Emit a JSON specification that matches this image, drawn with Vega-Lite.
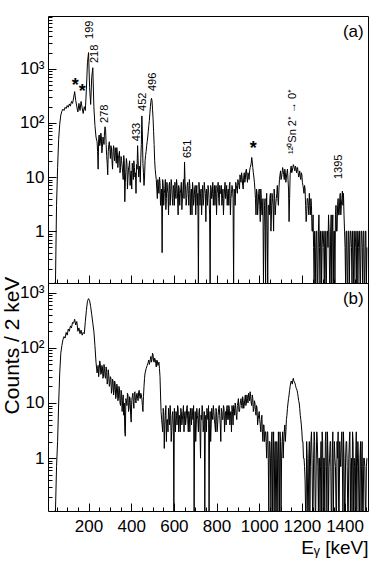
{
"$schema": "https://vega.github.io/schema/vega-lite/v6.json",
"padding": {"left": 0, "top": 15, "right": 0, "bottom": 0},
"spacing": 0,
"bounds": "flush",
"config": {
 "font": "Liberation Sans",
 "view": {"stroke": "#000", "strokeWidth": 1},
 "axis": {"domain": false, "grid": false, "tickColor": "#000", "tickWidth": 1, "labelColor": "#000", "labelFont": "Liberation Sans", "labelFontSize": 17, "titleFont": "Liberation Sans", "titleColor": "#000", "titleFontWeight": "normal", "labelOverlap": false, "labelFlush": false, "labelBound": false}
},
"datasets": {
"spec": [
{"e":40,"a":0,"b":0},{"e":45,"a":0,"b":0},{"e":50,"a":3,"b":0.7},{"e":55,"a":15,"b":2},{"e":60,"a":50,"b":10},{"e":65,"a":95,"b":35},{"e":70,"a":140,"b":80},{"e":75,"a":165,"b":110},{"e":80,"a":180,"b":140},{"e":85,"a":170,"b":160},{"e":90,"a":195,"b":150},{"e":95,"a":185,"b":190},{"e":100,"a":210,"b":170},{"e":105,"a":195,"b":220},{"e":110,"a":225,"b":200},{"e":115,"a":205,"b":250},{"e":120,"a":250,"b":230},{"e":125,"a":230,"b":290},{"e":130,"a":290,"b":280},{"e":135,"a":380,"b":330},{"e":140,"a":260,"b":260},{"e":145,"a":200,"b":300},{"e":150,"a":160,"b":200},{"e":155,"a":230,"b":230},{"e":160,"a":170,"b":180},{"e":165,"a":250,"b":210},{"e":170,"a":190,"b":170},{"e":175,"a":150,"b":190},{"e":180,"a":200,"b":180},{"e":185,"a":170,"b":300},{"e":190,"a":420,"b":480},{"e":195,"a":1300,"b":700},{"e":200,"a":2000,"b":780},{"e":205,"a":450,"b":720},{"e":210,"a":220,"b":560},{"e":215,"a":700,"b":400},{"e":220,"a":1050,"b":280},{"e":225,"a":200,"b":200},{"e":230,"a":90,"b":110},{"e":235,"a":55,"b":55},{"e":240,"a":45,"b":35},{"e":245,"a":14,"b":48},{"e":250,"a":60,"b":40},{"e":255,"a":42,"b":52},{"e":260,"a":55,"b":35},{"e":265,"a":35,"b":45},{"e":270,"a":48,"b":30},{"e":275,"a":70,"b":42},{"e":280,"a":75,"b":28},{"e":285,"a":25,"b":38},{"e":290,"a":11,"b":25},{"e":295,"a":40,"b":32},{"e":300,"a":32,"b":22},{"e":305,"a":38,"b":28},{"e":310,"a":20,"b":18},{"e":315,"a":30,"b":25},{"e":320,"a":25,"b":17},{"e":325,"a":35,"b":22},{"e":330,"a":18,"b":14},{"e":335,"a":28,"b":20},{"e":340,"a":22,"b":12},{"e":345,"a":30,"b":18},{"e":350,"a":15,"b":9},{"e":355,"a":20,"b":15},{"e":360,"a":12,"b":11},{"e":365,"a":25,"b":6},{"e":370,"a":3.5,"b":3},{"e":375,"a":14,"b":12},{"e":380,"a":18,"b":9},{"e":385,"a":10,"b":14},{"e":390,"a":16,"b":8},{"e":395,"a":7,"b":12},{"e":400,"a":13,"b":4.5},{"e":405,"a":18,"b":13},{"e":410,"a":9,"b":10},{"e":415,"a":15,"b":15},{"e":420,"a":12,"b":11},{"e":425,"a":17,"b":14},{"e":430,"a":38,"b":12},{"e":435,"a":10,"b":16},{"e":440,"a":16,"b":13},{"e":445,"a":22,"b":15},{"e":450,"a":135,"b":12},{"e":455,"a":18,"b":7},{"e":460,"a":7,"b":20},{"e":465,"a":20,"b":35},{"e":470,"a":30,"b":42},{"e":475,"a":45,"b":48},{"e":480,"a":70,"b":55},{"e":485,"a":110,"b":50},{"e":490,"a":200,"b":62},{"e":495,"a":285,"b":55},{"e":500,"a":180,"b":80},{"e":505,"a":70,"b":58},{"e":510,"a":20,"b":65},{"e":515,"a":11,"b":52},{"e":520,"a":6,"b":60},{"e":525,"a":9,"b":48},{"e":530,"a":5,"b":55},{"e":535,"a":8,"b":30},{"e":540,"a":4,"b":7},{"e":545,"a":0.4,"b":4},{"e":550,"a":7,"b":8},{"e":555,"a":5,"b":1.5},{"e":560,"a":9,"b":6},{"e":565,"a":4,"b":2},{"e":570,"a":6,"b":5},{"e":575,"a":2,"b":8},{"e":580,"a":8,"b":4},{"e":585,"a":5,"b":6},{"e":590,"a":7,"b":3},{"e":595,"a":3,"b":7},{"e":600,"a":6,"b":0},{"e":605,"a":8,"b":5},{"e":610,"a":4,"b":7},{"e":615,"a":7,"b":4},{"e":620,"a":2,"b":8},{"e":625,"a":6,"b":6},{"e":630,"a":5,"b":3},{"e":635,"a":8,"b":7},{"e":640,"a":4,"b":5},{"e":645,"a":9,"b":9},{"e":650,"a":19,"b":6},{"e":655,"a":6,"b":4},{"e":660,"a":4,"b":8},{"e":665,"a":8,"b":5},{"e":670,"a":3,"b":7},{"e":675,"a":7,"b":3},{"e":680,"a":5,"b":6},{"e":685,"a":2,"b":8},{"e":690,"a":6,"b":5},{"e":695,"a":4,"b":0},{"e":700,"a":7,"b":7},{"e":705,"a":5,"b":4},{"e":710,"a":3,"b":6},{"e":715,"a":0,"b":3},{"e":720,"a":6,"b":8},{"e":725,"a":5,"b":1},{"e":730,"a":2,"b":5},{"e":735,"a":7,"b":7},{"e":740,"a":4,"b":4},{"e":745,"a":6,"b":0},{"e":750,"a":1.5,"b":6},{"e":755,"a":5,"b":8},{"e":760,"a":7,"b":5},{"e":765,"a":4,"b":0},{"e":770,"a":0,"b":7},{"e":775,"a":6,"b":4},{"e":780,"a":5,"b":6},{"e":785,"a":3,"b":9},{"e":790,"a":7,"b":5},{"e":795,"a":5,"b":3},{"e":800,"a":2,"b":7},{"e":805,"a":6,"b":4},{"e":810,"a":4,"b":8},{"e":815,"a":7,"b":6},{"e":820,"a":5,"b":2},{"e":825,"a":3,"b":7},{"e":830,"a":6,"b":5},{"e":835,"a":4,"b":8},{"e":840,"a":8,"b":6},{"e":845,"a":5,"b":4},{"e":850,"a":3,"b":9},{"e":855,"a":6,"b":5},{"e":860,"a":7,"b":8},{"e":865,"a":2,"b":6},{"e":870,"a":5,"b":3},{"e":875,"a":6,"b":7},{"e":880,"a":0,"b":9},{"e":885,"a":5,"b":6},{"e":890,"a":8,"b":8},{"e":895,"a":6,"b":5},{"e":900,"a":9,"b":10},{"e":905,"a":7,"b":7},{"e":910,"a":11,"b":9},{"e":915,"a":8,"b":12},{"e":920,"a":10,"b":8},{"e":925,"a":6,"b":11},{"e":930,"a":12,"b":9},{"e":935,"a":9,"b":14},{"e":940,"a":14,"b":10},{"e":945,"a":8,"b":12},{"e":950,"a":11,"b":15},{"e":955,"a":13,"b":11},{"e":960,"a":16,"b":13},{"e":965,"a":23,"b":9},{"e":970,"a":15,"b":12},{"e":975,"a":10,"b":8},{"e":980,"a":6,"b":10},{"e":985,"a":2,"b":6},{"e":990,"a":5,"b":8},{"e":995,"a":3,"b":5},{"e":1000,"a":6,"b":7},{"e":1005,"a":1.5,"b":4},{"e":1010,"a":4,"b":5},{"e":1015,"a":2,"b":3},{"e":1020,"a":0,"b":4},{"e":1025,"a":3,"b":2},{"e":1030,"a":0,"b":3},{"e":1035,"a":5,"b":1},{"e":1040,"a":0,"b":3},{"e":1045,"a":3,"b":0},{"e":1050,"a":4,"b":2},{"e":1055,"a":1,"b":0},{"e":1060,"a":5,"b":3},{"e":1065,"a":3,"b":1},{"e":1070,"a":6,"b":0},{"e":1075,"a":2,"b":2},{"e":1080,"a":4,"b":0},{"e":1085,"a":7,"b":1},{"e":1090,"a":3,"b":3},{"e":1095,"a":9,"b":0},{"e":1100,"a":13,"b":2},{"e":1105,"a":10,"b":1},{"e":1110,"a":15,"b":3},{"e":1115,"a":11,"b":2},{"e":1120,"a":14,"b":4},{"e":1125,"a":8,"b":3},{"e":1130,"a":12,"b":6},{"e":1135,"a":9,"b":10},{"e":1140,"a":1.5,"b":14},{"e":1145,"a":11,"b":20},{"e":1150,"a":16,"b":25},{"e":1155,"a":13,"b":22},{"e":1160,"a":17,"b":28},{"e":1165,"a":14,"b":24},{"e":1170,"a":16,"b":21},{"e":1175,"a":12,"b":18},{"e":1180,"a":15,"b":15},{"e":1185,"a":10,"b":11},{"e":1190,"a":13,"b":8},{"e":1195,"a":9,"b":5},{"e":1200,"a":11,"b":3},{"e":1205,"a":7,"b":2},{"e":1210,"a":5,"b":1},{"e":1215,"a":6,"b":0.4},{"e":1220,"a":1.5,"b":0},{"e":1225,"a":4,"b":1},{"e":1230,"a":3,"b":0},{"e":1235,"a":5,"b":2},{"e":1240,"a":2,"b":0.7},{"e":1245,"a":3,"b":3},{"e":1250,"a":1,"b":0},{"e":1255,"a":0.5,"b":1},{"e":1260,"a":1,"b":2},{"e":1265,"a":0,"b":0},{"e":1270,"a":1,"b":3},{"e":1275,"a":0,"b":0.7},{"e":1280,"a":2,"b":1},{"e":1285,"a":0,"b":0},{"e":1290,"a":1,"b":2},{"e":1295,"a":0.5,"b":3},{"e":1300,"a":1,"b":0},{"e":1305,"a":0,"b":1},{"e":1310,"a":1,"b":2},{"e":1315,"a":0,"b":0.7},{"e":1320,"a":1,"b":3},{"e":1325,"a":2,"b":0},{"e":1330,"a":0,"b":1},{"e":1335,"a":1,"b":2},{"e":1340,"a":0,"b":0},{"e":1345,"a":2,"b":3},{"e":1350,"a":1,"b":0.7},{"e":1355,"a":0,"b":1},{"e":1360,"a":3,"b":0},{"e":1365,"a":1,"b":2},{"e":1370,"a":4,"b":3},{"e":1375,"a":2,"b":0},{"e":1380,"a":5,"b":1},{"e":1385,"a":3,"b":2},{"e":1390,"a":5.5,"b":0.7},{"e":1395,"a":5,"b":3},{"e":1400,"a":1,"b":0},{"e":1405,"a":0,"b":1},{"e":1410,"a":1,"b":2},{"e":1415,"a":0,"b":0},{"e":1420,"a":1,"b":1},{"e":1425,"a":0.5,"b":3},{"e":1430,"a":1,"b":0.7},{"e":1435,"a":0,"b":0},{"e":1440,"a":1,"b":2},{"e":1445,"a":0,"b":1},{"e":1450,"a":1,"b":0},{"e":1455,"a":0,"b":3},{"e":1460,"a":1,"b":0.7},{"e":1465,"a":0.5,"b":1},{"e":1470,"a":1,"b":0},{"e":1475,"a":0,"b":2},{"e":1480,"a":1,"b":0.7},{"e":1485,"a":0,"b":0},{"e":1490,"a":1,"b":1},{"e":1495,"a":0,"b":0.7},{"e":1500,"a":1,"b":0},{"e":1505,"a":0.5,"b":1},
{"e":242.5,"a":30,"b":42},{"e":247.5,"a":52,"b":30},{"e":252.5,"a":38,"b":58},{"e":257.5,"a":65,"b":33},{"e":262.5,"a":28,"b":48},{"e":267.5,"a":55,"b":28},{"e":272.5,"a":40,"b":50},{"e":277.5,"a":85,"b":30},{"e":282.5,"a":40,"b":45},{"e":287.5,"a":18,"b":22},{"e":292.5,"a":30,"b":40},{"e":297.5,"a":45,"b":20},{"e":302.5,"a":22,"b":30},{"e":307.5,"a":35,"b":15},{"e":312.5,"a":14,"b":27},{"e":317.5,"a":38,"b":14},{"e":322.5,"a":20,"b":25},{"e":327.5,"a":28,"b":12},{"e":332.5,"a":35,"b":22},{"e":337.5,"a":15,"b":11},{"e":342.5,"a":26,"b":20},{"e":347.5,"a":12,"b":10},{"e":352.5,"a":24,"b":17},{"e":357.5,"a":16,"b":7},{"e":362.5,"a":9,"b":14},{"e":367.5,"a":20,"b":10},{"e":372.5,"a":8,"b":2.5},{"e":377.5,"a":22,"b":11},{"e":382.5,"a":6,"b":15},{"e":387.5,"a":15,"b":7},{"e":392.5,"a":20,"b":13},{"e":397.5,"a":11,"b":6},{"e":402.5,"a":6,"b":11},{"e":407.5,"a":14,"b":15},{"e":412.5,"a":20,"b":8},{"e":417.5,"a":10,"b":16},{"e":422.5,"a":5,"b":10},{"e":427.5,"a":14,"b":15},{"e":432.5,"a":20,"b":11},{"e":437.5,"a":13,"b":17},{"e":442.5,"a":8,"b":12},{"e":447.5,"a":40,"b":14},{"e":452.5,"a":60,"b":9},{"e":457.5,"a":12,"b":13},{"e":462.5,"a":10,"b":28},{"e":467.5,"a":25,"b":38},{"e":472.5,"a":38,"b":45},{"e":477.5,"a":55,"b":52},{"e":482.5,"a":90,"b":60},{"e":487.5,"a":150,"b":55},{"e":492.5,"a":250,"b":70},{"e":497.5,"a":260,"b":62},{"e":502.5,"a":120,"b":75},{"e":507.5,"a":40,"b":55},{"e":512.5,"a":14,"b":62},{"e":517.5,"a":9,"b":45},{"e":522.5,"a":4,"b":58},{"e":527.5,"a":7,"b":50},{"e":532.5,"a":10,"b":42},{"e":537.5,"a":3,"b":14},{"e":542.5,"a":6,"b":5},{"e":547.5,"a":9,"b":3},{"e":552.5,"a":3,"b":7},{"e":557.5,"a":6,"b":4},{"e":562.5,"a":2.5,"b":9},{"e":567.5,"a":8,"b":5},{"e":572.5,"a":5,"b":3},{"e":577.5,"a":7,"b":6},{"e":582.5,"a":3,"b":9},{"e":587.5,"a":9,"b":2},{"e":592.5,"a":4,"b":6},{"e":597.5,"a":7,"b":4},{"e":602.5,"a":3,"b":8},{"e":607.5,"a":5,"b":3},{"e":612.5,"a":9,"b":6},{"e":617.5,"a":4,"b":9},{"e":622.5,"a":7,"b":3},{"e":627.5,"a":3,"b":5},{"e":632.5,"a":6,"b":8},{"e":637.5,"a":2.5,"b":4},{"e":642.5,"a":6,"b":7},{"e":647.5,"a":4,"b":3},{"e":652.5,"a":8,"b":7},{"e":657.5,"a":3,"b":5},{"e":662.5,"a":7,"b":9},{"e":667.5,"a":5,"b":3},{"e":672.5,"a":9,"b":6},{"e":677.5,"a":2,"b":8},{"e":682.5,"a":6,"b":4},{"e":687.5,"a":8,"b":6},{"e":692.5,"a":3,"b":9},{"e":697.5,"a":6,"b":4},{"e":702.5,"a":2,"b":2},{"e":707.5,"a":7,"b":8},{"e":712.5,"a":5,"b":5},{"e":717.5,"a":8,"b":7},{"e":722.5,"a":3,"b":3},{"e":727.5,"a":6,"b":6},{"e":732.5,"a":4,"b":9},{"e":737.5,"a":3,"b":3},{"e":742.5,"a":8,"b":7},{"e":747.5,"a":5,"b":5},{"e":752.5,"a":6,"b":3},{"e":757.5,"a":3,"b":6},{"e":762.5,"a":6,"b":9},{"e":767.5,"a":2,"b":4},{"e":772.5,"a":7,"b":2},{"e":777.5,"a":4,"b":8},{"e":782.5,"a":8,"b":5},{"e":787.5,"a":5,"b":7},{"e":792.5,"a":3,"b":4},{"e":797.5,"a":7,"b":8},{"e":802.5,"a":5,"b":3},{"e":807.5,"a":8,"b":6},{"e":812.5,"a":3,"b":9},{"e":817.5,"a":5,"b":4},{"e":822.5,"a":7,"b":8},{"e":827.5,"a":4,"b":5},{"e":832.5,"a":2,"b":9},{"e":837.5,"a":6,"b":3},{"e":842.5,"a":4,"b":7},{"e":847.5,"a":7,"b":8},{"e":852.5,"a":5,"b":5},{"e":857.5,"a":3,"b":9},{"e":862.5,"a":8,"b":4},{"e":867.5,"a":4,"b":7},{"e":872.5,"a":7,"b":9},{"e":877.5,"a":4,"b":4},{"e":882.5,"a":6,"b":8},{"e":887.5,"a":3,"b":10},{"e":892.5,"a":7,"b":6},{"e":897.5,"a":5,"b":9},{"e":902.5,"a":8,"b":12},{"e":907.5,"a":6,"b":7},{"e":912.5,"a":9,"b":11},{"e":917.5,"a":12,"b":9},{"e":922.5,"a":7,"b":13},{"e":927.5,"a":10,"b":8},{"e":932.5,"a":8,"b":12},{"e":937.5,"a":13,"b":9},{"e":942.5,"a":10,"b":14},{"e":947.5,"a":12,"b":10},{"e":952.5,"a":9,"b":13},{"e":957.5,"a":15,"b":16},{"e":962.5,"a":18,"b":10},{"e":967.5,"a":19,"b":14},{"e":972.5,"a":12,"b":7},{"e":977.5,"a":8,"b":11},{"e":982.5,"a":4,"b":7},{"e":987.5,"a":6,"b":9},{"e":992.5,"a":2,"b":4},{"e":997.5,"a":5,"b":6},{"e":1002.5,"a":3,"b":5},{"e":1007.5,"a":6,"b":3},{"e":1012.5,"a":2,"b":6},{"e":1017.5,"a":4,"b":2},{"e":1022.5,"a":1,"b":4},{"e":1027.5,"a":4,"b":3},{"e":1032.5,"a":2,"b":2},{"e":1037.5,"a":1,"b":3},{"e":1042.5,"a":3,"b":1},{"e":1047.5,"a":2,"b":2},{"e":1052.5,"a":5,"b":1},{"e":1057.5,"a":2,"b":2},{"e":1062.5,"a":4,"b":0},{"e":1067.5,"a":1,"b":3},{"e":1072.5,"a":4,"b":1},{"e":1077.5,"a":3,"b":0},{"e":1082.5,"a":5,"b":2},{"e":1087.5,"a":4,"b":0},{"e":1092.5,"a":6,"b":1},{"e":1097.5,"a":11,"b":3},{"e":1102.5,"a":9,"b":0},{"e":1107.5,"a":12,"b":2},{"e":1112.5,"a":13,"b":1},{"e":1117.5,"a":9,"b":3},{"e":1122.5,"a":12,"b":2},{"e":1127.5,"a":10,"b":5},{"e":1132.5,"a":14,"b":8},{"e":1137.5,"a":6,"b":12},{"e":1142.5,"a":4,"b":17},{"e":1147.5,"a":14,"b":23},{"e":1152.5,"a":12,"b":24},{"e":1157.5,"a":15,"b":26},{"e":1162.5,"a":16,"b":25},{"e":1167.5,"a":13,"b":23},{"e":1172.5,"a":15,"b":19},{"e":1177.5,"a":14,"b":17},{"e":1182.5,"a":12,"b":13},{"e":1187.5,"a":11,"b":10},{"e":1192.5,"a":10,"b":6},{"e":1197.5,"a":12,"b":4},{"e":1202.5,"a":8,"b":2},{"e":1207.5,"a":6,"b":1},{"e":1212.5,"a":7,"b":0.7},{"e":1217.5,"a":3,"b":0},{"e":1222.5,"a":2,"b":2},{"e":1227.5,"a":4,"b":0},{"e":1232.5,"a":2,"b":1},{"e":1237.5,"a":3,"b":0},{"e":1242.5,"a":4,"b":2},{"e":1247.5,"a":1,"b":1},{"e":1252.5,"a":2,"b":0},{"e":1257.5,"a":0,"b":3},{"e":1262.5,"a":0.5,"b":0},{"e":1267.5,"a":1,"b":1},{"e":1272.5,"a":0,"b":2},{"e":1277.5,"a":1,"b":0},{"e":1282.5,"a":0.5,"b":1},{"e":1287.5,"a":1,"b":0.7},{"e":1292.5,"a":0,"b":0},{"e":1297.5,"a":1,"b":2},{"e":1302.5,"a":0.5,"b":1},{"e":1307.5,"a":1,"b":0},{"e":1312.5,"a":0,"b":3},{"e":1317.5,"a":1,"b":0},{"e":1322.5,"a":0.5,"b":1},{"e":1327.5,"a":1,"b":0.7},{"e":1332.5,"a":0,"b":2},{"e":1337.5,"a":2,"b":0},{"e":1342.5,"a":1,"b":1},{"e":1347.5,"a":0,"b":0},{"e":1352.5,"a":1,"b":2},{"e":1357.5,"a":2,"b":0.7},{"e":1362.5,"a":1,"b":0},{"e":1367.5,"a":3,"b":1},{"e":1372.5,"a":2,"b":0},{"e":1377.5,"a":4,"b":2},{"e":1382.5,"a":2,"b":0.7},{"e":1387.5,"a":4,"b":3},{"e":1392.5,"a":3,"b":0},{"e":1397.5,"a":2,"b":1},{"e":1402.5,"a":0.5,"b":0},{"e":1407.5,"a":1,"b":2},{"e":1412.5,"a":0,"b":0.7},{"e":1417.5,"a":1,"b":0},{"e":1422.5,"a":0,"b":2},{"e":1427.5,"a":1,"b":0},{"e":1432.5,"a":0.5,"b":1},{"e":1437.5,"a":1,"b":3},{"e":1442.5,"a":0,"b":0},{"e":1447.5,"a":1,"b":0.7},{"e":1452.5,"a":0.5,"b":1},{"e":1457.5,"a":1,"b":0},{"e":1462.5,"a":0,"b":2},{"e":1467.5,"a":1,"b":0},{"e":1472.5,"a":0,"b":1},{"e":1477.5,"a":1,"b":0},{"e":1482.5,"a":0.5,"b":2},{"e":1487.5,"a":1,"b":0},{"e":1492.5,"a":0,"b":1},{"e":1497.5,"a":1,"b":0},{"e":1502.5,"a":0,"b":0.7}
],
"lab": [
{"t":"199","e":206,"c":3570},
{"t":"218","e":229,"c":1285},
{"t":"278","e":278,"c":100},
{"t":"433","e":426,"c":46},
{"t":"452","e":454,"c":167},
{"t":"496","e":501,"c":390},
{"t":"651","e":667,"c":22.5},
{"t":"1395","e":1373,"c":9.2},
{"t":"¹²⁰Sn 2⁺ → 0⁺","e":1160,"c":26.7}
],
"star": [
{"t":"*","e":138,"c":573},
{"t":"*","e":170,"c":444},
{"t":"*","e":972,"c":39}
],
"pa": [{"t":"(a)","e":1490,"c":4800}],
"pb": [{"t":"(b)","e":1490,"c":770}]
},
"vconcat": [
{
 "width": 320, "height": 267,
 "resolve": {"axis": {"x": "independent", "y": "independent"}},
 "layer": [
  {
   "data": {"name": "spec"},
   "mark": {"type": "line", "color": "#000", "strokeWidth": 1, "interpolate": "linear", "invalid": "show"},
   "encoding": {
    "x": {"field": "e", "type": "quantitative", "scale": {"domain": [10, 1510], "nice": false, "zero": false},
          "axis": {"orient": "bottom", "values": [200,400,600,800,1000,1200,1400], "tickSize": -8, "labels": false, "title": null}},
    "y": {"field": "a", "type": "quantitative", "scale": {"type": "log", "domain": [0.11, 9500], "nice": false, "clamp": true},
          "axis": {"orient": "left", "values": [1,10,100,1000], "tickSize": -8, "labelPadding": 12, "title": null,
                   "labelExpr": "datum.value >= 1000 ? '10³' : datum.value >= 100 ? '10²' : datum.value >= 10 ? '10' : '1'"}}
   }
  },
  {
   "data": {"name": "spec"},
   "mark": {"type": "point", "opacity": 0},
   "encoding": {
    "x": {"field": "e", "type": "quantitative",
          "axis": {"orient": "bottom", "values": [50,100,150,250,300,350,450,500,550,650,700,750,850,900,950,1050,1100,1150,1250,1300,1350,1450,1500], "tickSize": -4, "labels": false, "title": null}},
    "y": {"field": "a", "type": "quantitative",
          "axis": {"orient": "left", "values": [0.2,0.3,0.4,0.5,0.6,0.7,0.8,0.9,2,3,4,5,6,7,8,9,20,30,40,50,60,70,80,90,200,300,400,500,600,700,800,900,2000,3000,4000,5000,6000,7000,8000,9000], "tickSize": -4, "labels": false, "title": null}}
   }
  },
  {
   "data": {"name": "lab"},
   "mark": {"type": "text", "angle": 270, "align": "left", "baseline": "middle", "fontSize": 11, "color": "#000"},
   "encoding": {
    "x": {"field": "e", "type": "quantitative", "axis": null},
    "y": {"field": "c", "type": "quantitative", "axis": null},
    "text": {"field": "t"}
   }
  },
  {
   "data": {"name": "star"},
   "mark": {"type": "text", "align": "center", "baseline": "middle", "fontSize": 18, "fontWeight": "bold", "dy": 4, "color": "#000"},
   "encoding": {
    "x": {"field": "e", "type": "quantitative", "axis": null},
    "y": {"field": "c", "type": "quantitative", "axis": null},
    "text": {"field": "t"}
   }
  },
  {
   "data": {"name": "pa"},
   "mark": {"type": "text", "align": "right", "baseline": "middle", "fontSize": 17, "color": "#000"},
   "encoding": {
    "x": {"field": "e", "type": "quantitative", "axis": null},
    "y": {"field": "c", "type": "quantitative", "axis": null},
    "text": {"field": "t"}
   }
  }
 ]
},
{
 "width": 320, "height": 228,
 "resolve": {"axis": {"x": "independent", "y": "independent"}},
 "layer": [
  {
   "data": {"name": "spec"},
   "mark": {"type": "line", "color": "#000", "strokeWidth": 1, "interpolate": "linear", "invalid": "show"},
   "encoding": {
    "x": {"field": "e", "type": "quantitative", "scale": {"domain": [10, 1510], "nice": false, "zero": false},
          "axis": {"orient": "bottom", "values": [200,400,600,800,1000,1200,1400], "format": "d", "tickSize": -8, "labelPadding": 15,
                   "title": "Eᵧ [keV]", "titleFontSize": 19, "titleX": 320, "titleY": 42, "titleAlign": "right", "titleAnchor": "end", "titleBaseline": "alphabetic"}},
    "y": {"field": "b", "type": "quantitative", "scale": {"type": "log", "domain": [0.11, 1500], "nice": false, "clamp": true},
          "axis": {"orient": "left", "values": [1,10,100,1000], "tickSize": -8, "labelPadding": 12,
                   "labelExpr": "datum.value >= 1000 ? '10³' : datum.value >= 100 ? '10²' : datum.value >= 10 ? '10' : '1'",
                   "title": "Counts / 2 keV", "titleFontSize": 21, "titleX": -30, "titleY": 62, "titleAngle": 270, "titleAlign": "center", "titleBaseline": "alphabetic"}}
   }
  },
  {
   "data": {"name": "spec"},
   "mark": {"type": "point", "opacity": 0},
   "encoding": {
    "x": {"field": "e", "type": "quantitative",
          "axis": {"orient": "bottom", "values": [50,100,150,250,300,350,450,500,550,650,700,750,850,900,950,1050,1100,1150,1250,1300,1350,1450,1500], "tickSize": -4, "labels": false, "title": null}},
    "y": {"field": "b", "type": "quantitative",
          "axis": {"orient": "left", "values": [0.2,0.3,0.4,0.5,0.6,0.7,0.8,0.9,2,3,4,5,6,7,8,9,20,30,40,50,60,70,80,90,200,300,400,500,600,700,800,900], "tickSize": -4, "labels": false, "title": null}}
   }
  },
  {
   "data": {"name": "pb"},
   "mark": {"type": "text", "align": "right", "baseline": "middle", "fontSize": 17, "color": "#000"},
   "encoding": {
    "x": {"field": "e", "type": "quantitative", "axis": null},
    "y": {"field": "c", "type": "quantitative", "axis": null},
    "text": {"field": "t"}
   }
  }
 ]
}
]
}
